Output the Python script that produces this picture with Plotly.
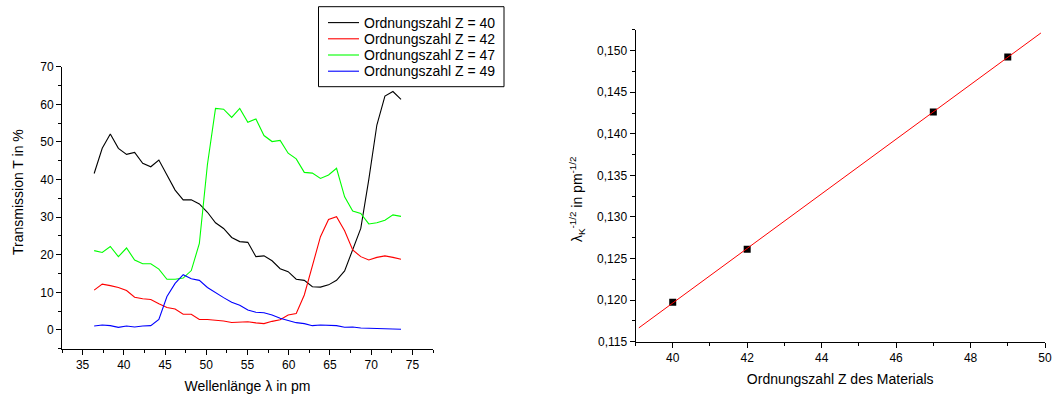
import numpy as np
import plotly.graph_objects as go

# Wavelength axis (pm)
wavelength = [36.40, 37.38, 38.36, 39.34, 40.33, 41.31, 42.29, 43.27, 44.25, 45.23,
              46.22, 47.20, 48.18, 49.16, 50.14, 51.12, 52.10, 53.08, 54.06, 55.04,
              56.02, 57.00, 57.98, 58.96, 59.93, 60.91, 61.89, 62.87, 63.85, 64.83,
              65.80, 66.78, 67.76, 68.74, 69.71, 70.69, 71.67, 72.64, 73.62]

T_Z40 = [41.6, 48.3, 52.1, 48.3, 46.7, 47.2, 44.3, 43.4, 45.2, 41.2,
         37.2, 34.6, 34.6, 33.5, 31.3, 28.5, 27.0, 24.6, 23.5, 23.3,
         19.5, 19.7, 18.4, 16.3, 15.5, 13.5, 13.2, 11.5, 11.4, 12.0,
         13.2, 15.7, 21.3, 27.0, 40.0, 54.5, 62.2, 63.4, 61.3]
T_Z42 = [10.6, 12.2, 11.8, 11.3, 10.5, 8.7, 8.3, 8.1, 7.0, 6.0,
         5.6, 4.2, 4.2, 2.8, 2.8, 2.7, 2.4, 2.0, 2.0, 2.2,
         1.9, 1.7, 2.3, 2.7, 4.0, 4.4, 9.3, 16.8, 24.8, 29.4,
         30.1, 26.4, 21.3, 19.5, 18.6, 19.3, 19.7, 19.3, 18.8]
T_Z47 = [21.1, 20.6, 22.2, 19.5, 21.8, 18.6, 17.6, 17.6, 16.2, 13.5,
         13.5, 13.8, 15.8, 23.0, 44.0, 58.9, 58.7, 56.5, 58.9, 55.2,
         56.1, 51.7, 50.1, 50.4, 47.0, 45.5, 41.9, 41.7, 40.3, 41.2,
         43.0, 35.4, 31.6, 31.0, 28.2, 28.5, 29.2, 30.6, 30.2]
T_Z49 = [1.06, 1.33, 1.15, 0.71, 1.06, 0.80, 1.06, 1.15, 2.8, 8.9,
         12.4, 14.7, 13.6, 13.2, 11.3, 9.9, 8.6, 7.4, 6.6, 5.3,
         4.7, 4.6, 4.0, 3.1, 2.5, 1.95, 1.7, 1.15, 1.33, 1.24,
         1.15, 0.71, 0.80, 0.53, 0.44, 0.35, 0.27, 0.18, 0.18]

series_names = ["Ordnungszahl Z = 40", "Ordnungszahl Z = 42",
                "Ordnungszahl Z = 47", "Ordnungszahl Z = 49"]
series_colors = ["#000000", "#ff0000", "#00ff00", "#0000ff"]

# Moseley plot
Z_values = [40, 42, 47, 49]
lambda_inv_sqrt = [0.11974, 0.12611, 0.14263, 0.14924]
fit_x_range = [39.09, 49.89]

FONT = "Liberation Sans, Arial, sans-serif"
W, H = 1055, 398

fig = go.Figure()

for name, ys, col in zip(series_names, [T_Z40, T_Z42, T_Z47, T_Z49], series_colors):
    fig.add_trace(go.Scatter(x=wavelength, y=ys, mode="lines", name=name,
                             line=dict(color=col, width=1.1),
                             showlegend=False, xaxis="x", yaxis="y"))

fig.add_trace(go.Scatter(x=Z_values, y=lambda_inv_sqrt, mode="markers",
                         marker=dict(symbol="square", size=7, color="#000000"),
                         showlegend=False, xaxis="x2", yaxis="y2"))

slope, intercept = np.polyfit(Z_values, lambda_inv_sqrt, 1)
fx = np.array(fit_x_range)
fig.add_trace(go.Scatter(x=fx, y=slope * fx + intercept, mode="lines",
                         line=dict(color="#ff0000", width=1),
                         showlegend=False, xaxis="x2", yaxis="y2"))

axis_common = dict(showgrid=False, zeroline=False, showline=True, linecolor="#000000",
                   linewidth=1, ticks="outside", ticklen=5, tickwidth=1,
                   tickcolor="#000000", mirror=False, automargin=False,
                   tickfont=dict(family=FONT, size=12, color="#000000"))

# Legend box (compact, like the original)
leg_left, leg_right, leg_top, leg_bottom = 318.5, 504.0, 6.7, 86.7
row_y = [22.6, 38.8, 55.0, 71.2]
shapes = [dict(type="rect", xref="paper", yref="paper",
               x0=leg_left / W, x1=leg_right / W,
               y0=1 - leg_bottom / H, y1=1 - leg_top / H,
               line=dict(color="#000000", width=1), fillcolor="white", layer="above")]
annotations = []
for name, col, ry in zip(series_names, series_colors, row_y):
    shapes.append(dict(type="line", xref="paper", yref="paper",
                       x0=328 / W, x1=359 / W, y0=1 - ry / H, y1=1 - ry / H,
                       line=dict(color=col, width=1.1), layer="above"))
    annotations.append(dict(text=name, xref="paper", yref="paper",
                            x=361.5 / W, y=1 - ry / H, xanchor="left", yanchor="middle",
                            showarrow=False,
                            font=dict(family=FONT, size=14, color="#000000")))

annotations.append(dict(text="Transmission T in %", xref="paper", yref="paper",
                        x=17.5 / W, y=1 - 192.5 / H, xanchor="center", yanchor="middle",
                        textangle=-90, showarrow=False,
                        font=dict(family=FONT, size=14, color="#000000")))
annotations.append(dict(text="λ<sub>K</sub><sup>-1/2</sup> in pm<sup>-1/2</sup>",
                        xref="paper", yref="paper",
                        x=577 / W, y=1 - 200 / H, xanchor="center", yanchor="middle",
                        textangle=-90, showarrow=False,
                        font=dict(family=FONT, size=14, color="#000000")))

fig.update_layout(
    width=W, height=H,
    margin=dict(l=0, r=0, t=0, b=0),
    paper_bgcolor="white", plot_bgcolor="white",
    separators=",.",
    showlegend=False,
    font=dict(family=FONT, color="#000000"),
    xaxis=dict(domain=[62 / W, 433 / W], range=[32.5, 77.5], dtick=5, tick0=35,
               anchor="y",
               minor=dict(dtick=2.5, tick0=32.5, ticks="outside", ticklen=3,
                          tickcolor="#000000"),
               title=dict(text="Wellenlänge λ in pm", standoff=9,
                          font=dict(family=FONT, size=14, color="#000000")),
               **axis_common),
    yaxis=dict(domain=[(H - 348.8) / H, (H - 66.7) / H], range=[-5, 70], dtick=10,
               tick0=0, anchor="x",
               minor=dict(dtick=5, tick0=0, ticks="outside", ticklen=3,
                          tickcolor="#000000"),
               **axis_common),
    xaxis2=dict(domain=[635.5 / W, 1045 / W], range=[39, 50], dtick=2, tick0=40,
                anchor="y2",
                minor=dict(dtick=1, tick0=39, ticks="outside", ticklen=3,
                           tickcolor="#000000"),
                title=dict(text="Ordnungszahl Z des Materials", standoff=10,
                           font=dict(family=FONT, size=14, color="#000000")),
                **axis_common),
    yaxis2=dict(domain=[(H - 341.7) / H, (H - 29.9) / H], range=[0.115, 0.1525],
                dtick=0.005, tick0=0.115, tickformat=".3f", anchor="x2",
                minor=dict(dtick=0.0025, tick0=0.115, ticks="outside", ticklen=3,
                           tickcolor="#000000"),
                **axis_common),
    shapes=shapes,
    annotations=annotations,
)

fig.write_html("out.html")
